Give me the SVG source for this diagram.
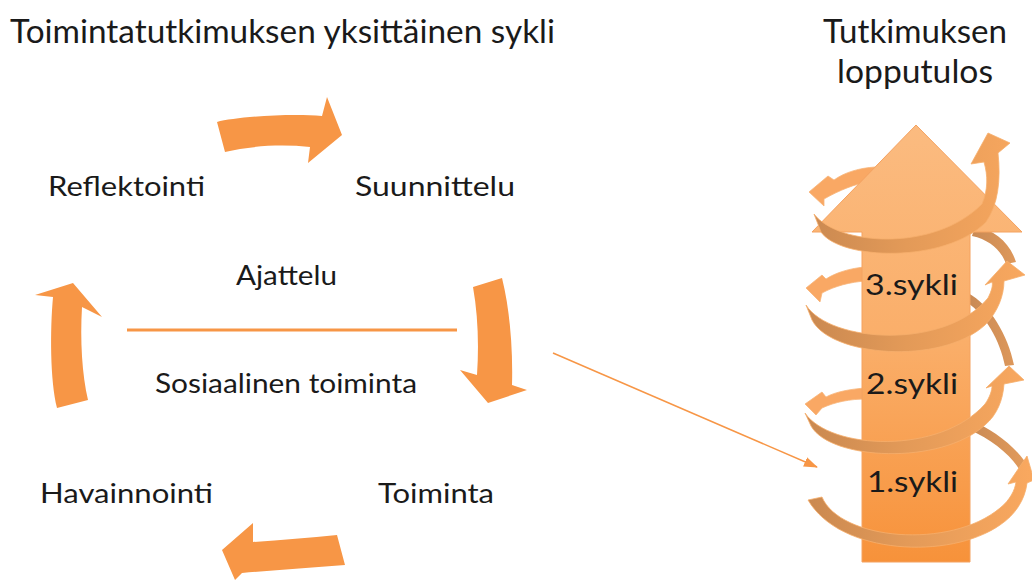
<svg xmlns="http://www.w3.org/2000/svg" width="1032" height="582" viewBox="0 0 1032 582">
<style>
.t{font-family:Lato,"Open Sans","Liberation Sans",sans-serif;fill:#1a1a1a}
.big{font-size:32px}
.lbl{font-size:26px}
.syk{font-size:29px}
.blk{fill:#F79646}
.front{fill:url(#frontGrad);stroke:#F6AE6C;stroke-width:0.8}
.backl{fill:#F9A864;stroke:#F7B57A;stroke-width:0.8}
.backr{fill:url(#backGrad)}
</style>
<defs>
<linearGradient id="shaftGrad" x1="0" y1="125" x2="0" y2="562" gradientUnits="userSpaceOnUse">
<stop offset="0" stop-color="#FBBB80"/>
<stop offset="0.5" stop-color="#FAAE69"/>
<stop offset="1" stop-color="#F7923A"/>
</linearGradient>
<linearGradient id="frontGrad" x1="805" y1="0" x2="1030" y2="0" gradientUnits="userSpaceOnUse">
<stop offset="0" stop-color="#C98850"/>
<stop offset="0.45" stop-color="#E39A58"/>
<stop offset="1" stop-color="#F9A85F"/>
</linearGradient>
<linearGradient id="backGrad" x1="970" y1="0" x2="1030" y2="0" gradientUnits="userSpaceOnUse">
<stop offset="0" stop-color="#C98A55"/>
<stop offset="1" stop-color="#E49C5C"/>
</linearGradient>
<marker id="ah" markerWidth="14" markerHeight="10" refX="13" refY="5" orient="auto" markerUnits="userSpaceOnUse">
<path d="M0,0 L14,5 L0,10 Z" fill="#F79646"/>
</marker>
<filter id="sh" x="-10%" y="-200%" width="120%" height="500%">
<feGaussianBlur stdDeviation="1.5"/>
</filter>
</defs>

<g id="titles">
<text class="t big" x="10" y="43" textLength="545" lengthAdjust="spacingAndGlyphs">Toimintatutkimuksen yksittäinen sykli</text>
<text class="t big" x="915" y="43" text-anchor="middle" textLength="184" lengthAdjust="spacingAndGlyphs">Tutkimuksen</text>
<text class="t big" x="915" y="83" text-anchor="middle" textLength="156" lengthAdjust="spacingAndGlyphs">lopputulos</text>
</g>

<g id="node-reflektointi"><text class="t lbl" x="48" y="196" textLength="157" lengthAdjust="spacingAndGlyphs">Reflektointi</text></g>
<g id="node-suunnittelu"><text class="t lbl" x="355" y="196" textLength="160" lengthAdjust="spacingAndGlyphs">Suunnittelu</text></g>
<g id="node-ajattelu"><text class="t lbl" x="236" y="285" textLength="101" lengthAdjust="spacingAndGlyphs">Ajattelu</text></g>
<g id="node-sosiaalinen"><text class="t lbl" x="155" y="393" textLength="262" lengthAdjust="spacingAndGlyphs">Sosiaalinen toiminta</text></g>
<g id="node-havainnointi"><text class="t lbl" x="40" y="503" textLength="173" lengthAdjust="spacingAndGlyphs">Havainnointi</text></g>
<g id="node-toiminta"><text class="t lbl" x="378" y="503" textLength="116" lengthAdjust="spacingAndGlyphs">Toiminta</text></g>

<g id="divider">
<line x1="128" y1="332.5" x2="457" y2="332.5" stroke="#808080" stroke-opacity="0.45" stroke-width="3" filter="url(#sh)"/>
<line x1="127" y1="330" x2="457" y2="330" stroke="#F79646" stroke-width="3"/>
</g>

<g id="connectors">
<path class="blk" d="M217,122 C235,117 290,113 322,116 L327,97 L342,135 L308,163 L310,147 C280,144 250,146 225,152 Z"/>
<path class="blk" d="M473,287 L502,278 C510,310 513,350 512,385 L527,390 L488,403 L460,370 L477,375 C479,345 478,315 473,287 Z"/>
<path class="blk" d="M337,535 C310,538 280,540 253,542 L253,523 L222,550 L235,580 L242,573 C275,570 310,568 345,565 Z"/>
<path class="blk" d="M57,408 C50,380 50,330 53,297 L35,295 L73,283 L102,317 L82,307 C80,340 82,375 88,400 Z"/>
<line x1="553" y1="353" x2="817" y2="467" stroke="#F79646" stroke-width="1.5" marker-end="url(#ah)"/>
</g>

<g id="result">
<g id="spiral-back">
<path class="backl" d="M875,167 C860,168 845,172 834,180 L828,176 L809,192 L824,206 L824,199 C840,190 855,184 868,182 Z"/>
<path class="backl" d="M866,267 C850,268 835,273 826,279 L822,275 L806,288 L820,302 L822,293 C835,286 850,282 866,281 Z"/>
<path class="backl" d="M866,388 C850,389 835,392 826,397 L822,392 L805,404 L816,415 L822,408 C835,402 850,399 866,399 Z"/>
<path class="backr" d="M975,226 C995,230 1010,243 1016,262 L1006,264 C1001,250 990,240 972,236 Z"/>
<path class="backr" d="M968,293 C990,305 1008,335 1014,365 L1005,366 C1000,340 985,315 968,303 Z"/>
<path class="backr" d="M970,420 C995,430 1020,450 1030,470 L1022,474 C1012,455 992,440 970,430 Z"/>
</g>
<g id="big-arrow">
<path d="M862,562 L862,232 L812,232 L916,125 L1022,232 L970,232 L970,562 Z" fill="url(#shaftGrad)" stroke="#F4A261" stroke-width="1"/>
</g>
<g id="cycle-3"><text class="t syk" x="865" y="295" textLength="93" lengthAdjust="spacingAndGlyphs">3.sykli</text></g>
<g id="cycle-2"><text class="t syk" x="866" y="394" textLength="92" lengthAdjust="spacingAndGlyphs">2.sykli</text></g>
<g id="cycle-1"><text class="t syk" x="867" y="492" textLength="91" lengthAdjust="spacingAndGlyphs">1.sykli</text></g>
<g id="spiral-front">
<path class="front" d="M814,214 C838,246 935,252 982,204 C988,190 988,176 984,162 L971,164 L988,133 L1010,143 L998,153 C1001,180 998,205 986,222 C945,264 840,260 821,232 Z"/>
<path class="front" d="M806,305 C830,343 945,350 988,298 C992,290 993,285 992,282 L985,285 L1007,261 L1025,275 L1004,281 C1004,295 998,312 985,325 C940,366 830,356 812,320 Z"/>
<path class="front" d="M805,413 C830,450 940,455 985,404 C990,397 992,390 992,386 L986,388 L1009,366 L1024,380 L1004,384 C1003,400 997,415 985,425 C940,466 830,460 811,426 Z"/>
<path class="front" d="M822,497 C840,540 950,550 1000,508 C1010,500 1015,490 1016,482 L1008,484 L1027,456 L1034,480 L1027,483 C1025,500 1015,515 1000,525 C950,560 840,555 808,500 Z"/>
</g>
</g>
</svg>
